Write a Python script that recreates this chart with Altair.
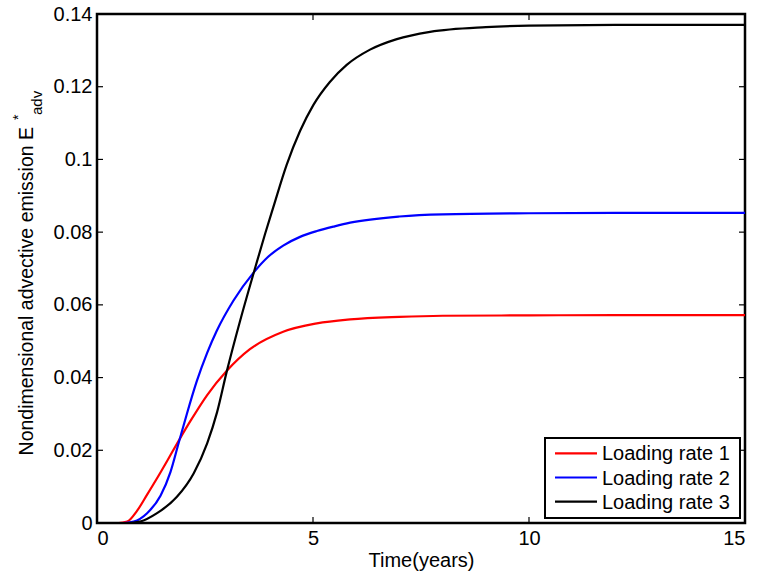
import altair as alt
import pandas as pd

# ---- data ----
series_names = ["Loading rate 1", "Loading rate 2", "Loading rate 3"]
series_colors = ["#ff0000", "#0000ff", "#000000"]

t_rate1 = [0, 0.5, 0.7, 0.93, 1.16, 1.39, 1.62, 1.89, 2.16, 2.55, 3.0, 3.54, 4.31, 5.09, 5.86, 7.0, 8.0, 10.0, 12.0, 15.0]
v_rate1 = [0, 0, 0.0004, 0.0034, 0.0078, 0.0123, 0.0170, 0.0226, 0.0280, 0.0352, 0.0418, 0.0478, 0.0526, 0.0549, 0.0560, 0.0567, 0.0570, 0.0571, 0.0572, 0.0572]

t_rate2 = [0, 0.6, 0.85, 1.16, 1.47, 1.70, 1.89, 2.08, 2.31, 2.55, 2.77, 3.16, 3.62, 3.95, 4.31, 4.70, 5.09, 5.50, 5.86, 7.0, 8.0, 10.0, 12.0, 15.0]
v_rate2 = [0, 0, 0.0004, 0.0027, 0.0075, 0.0140, 0.0220, 0.0300, 0.0390, 0.0468, 0.0528, 0.0612, 0.0688, 0.0731, 0.0763, 0.0787, 0.0803, 0.0816, 0.0826, 0.0843, 0.0849, 0.0852, 0.0853, 0.0853]

t_rate3 = [0, 0.7, 1.0, 1.39, 1.85, 2.24, 2.55, 2.78, 3.0, 3.31, 3.62, 3.89, 4.08, 4.39, 4.70, 5.01, 5.39, 5.78, 6.32, 6.94, 7.71, 9.0, 10.0, 12.0, 15.0]
v_rate3 = [0, 0, 0.0004, 0.0027, 0.0072, 0.0137, 0.0219, 0.0305, 0.0415, 0.0555, 0.0685, 0.0795, 0.0868, 0.0985, 0.1078, 0.1150, 0.1213, 0.1260, 0.1302, 0.1331, 0.1351, 0.1364, 0.1368, 0.137, 0.137]

x_ticks = [0, 5, 10, 15]
y_ticks = [0, 0.02, 0.04, 0.06, 0.08, 0.1, 0.12, 0.14]

x_title = "Time(years)"
y_title_main = "Nondimensional advective emission E"
y_title_sup = "*"
y_title_sub = "adv"

# ---- build table ----
rows = []
for name, ts, vs in [(series_names[0], t_rate1, v_rate1),
                     (series_names[1], t_rate2, v_rate2),
                     (series_names[2], t_rate3, v_rate3)]:
    for t, v in zip(ts, vs):
        rows.append({"series": name, "t": t, "v": v})
df = pd.DataFrame(rows)

W, H = 648, 509
FONT = "Liberation Sans"
FS = 20

xs = alt.Scale(domain=[0, 15], nice=False, zero=False)
ys = alt.Scale(domain=[0, 0.14], nice=False)
cs = alt.Scale(domain=series_names, range=series_colors)

lines = alt.Chart(df).mark_line(strokeWidth=2.2, interpolate="monotone", clip=True).encode(
    x=alt.X("t:Q", scale=xs,
            axis=alt.Axis(values=x_ticks, title=x_title, ticks=False, domain=False, grid=False,
                          labelFontSize=FS, titleFontSize=FS, labelFont=FONT, titleFont=FONT,
                          titleFontWeight="normal", labelPadding=5, titlePadding=2,
                          labelColor="black", titleColor="black", titleAnchor="middle")),
    y=alt.Y("v:Q", scale=ys,
            axis=alt.Axis(values=y_ticks, title=None, ticks=False, domain=False, grid=False,
                          format="~g", labelFontSize=FS, labelFont=FONT, labelPadding=5,
                          labelColor="black")),
    color=alt.Color("series:N", scale=cs, legend=None),
    order=alt.Order("t:Q"),
)

xt = pd.DataFrame({"t": x_ticks})
yt = pd.DataFrame({"v": y_ticks})
TL = 6
tick_layers = [
    alt.Chart(xt).mark_rule(color="black", strokeWidth=1.2).encode(
        x=alt.X("t:Q", scale=xs), y=alt.value(H), y2=alt.value(H - TL)),
    alt.Chart(xt).mark_rule(color="black", strokeWidth=1.2).encode(
        x=alt.X("t:Q", scale=xs), y=alt.value(0), y2=alt.value(TL)),
    alt.Chart(yt).mark_rule(color="black", strokeWidth=1.2).encode(
        y=alt.Y("v:Q", scale=ys), x=alt.value(0), x2=alt.value(TL)),
    alt.Chart(yt).mark_rule(color="black", strokeWidth=1.2).encode(
        y=alt.Y("v:Q", scale=ys), x=alt.value(W), x2=alt.value(W - TL)),
]

# ---- legend ----
one = pd.DataFrame({"a": [0]})
legend_layers = [
    alt.Chart(one).mark_rect(fill="white", stroke="black", strokeWidth=2).encode(
        x=alt.value(448), x2=alt.value(643), y=alt.value(424), y2=alt.value(504))
]
for i, name in enumerate(series_names):
    ld = pd.DataFrame({"series": [name]})
    yy = 439.3 + 24.2 * i
    legend_layers.append(
        alt.Chart(ld).mark_rule(strokeWidth=2.2).encode(
            x=alt.value(458), x2=alt.value(500), y=alt.value(yy),
            color=alt.Color("series:N", scale=cs, legend=None)))
    legend_layers.append(
        alt.Chart(ld).mark_text(align="left", baseline="middle", fontSize=FS, font=FONT, color="black").encode(
            x=alt.value(505), y=alt.value(yy + 1), text="series:N"))

# ---- y title with super/subscript ----
title_layers = [
    alt.Chart(one).mark_text(angle=270, align="right", baseline="alphabetic", fontSize=19.5,
                             font=FONT, color="black", text=y_title_main).encode(
        x=alt.value(-64), y=alt.value(113)),
    alt.Chart(one).mark_text(angle=270, align="left", baseline="alphabetic", fontSize=14,
                             font=FONT, color="black", text=y_title_sup).encode(
        x=alt.value(-74), y=alt.value(106)),
    alt.Chart(one).mark_text(angle=270, align="left", baseline="alphabetic", fontSize=15,
                             font=FONT, color="black", text=y_title_sub).encode(
        x=alt.value(-55), y=alt.value(101)),
]

chart = alt.layer(lines, *tick_layers, *legend_layers, *title_layers).properties(
    width=W, height=H,
    padding={"left": 97, "top": 14, "right": 12, "bottom": 54},
    autosize=alt.AutoSizeParams(type="none"),
    background="white",
).configure_view(stroke="black", strokeWidth=2.5)

chart.save("out.html", embed_options={"renderer": "svg", "actions": False})
